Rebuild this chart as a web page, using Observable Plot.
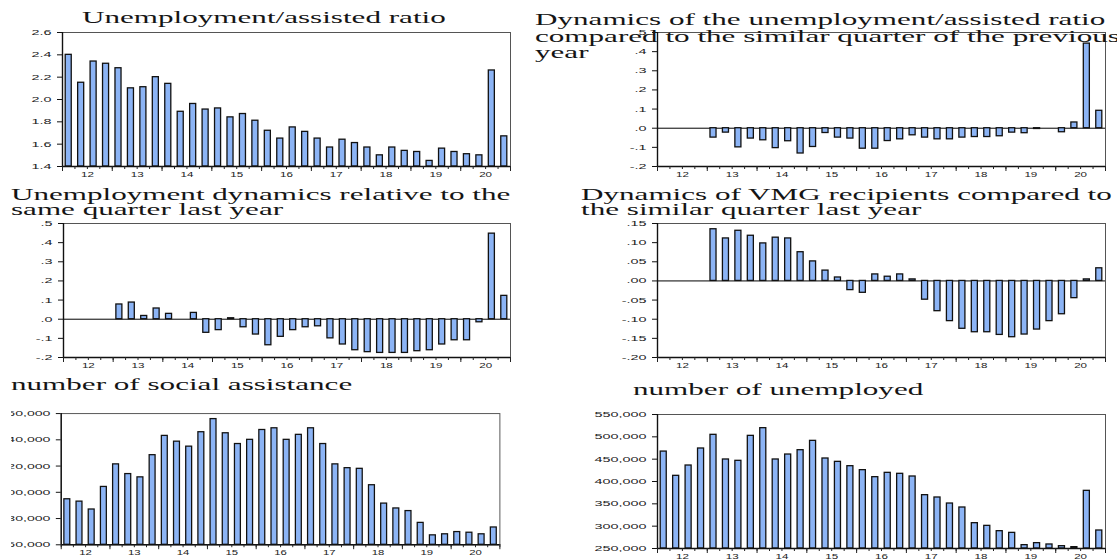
<!DOCTYPE html>
<html><head><meta charset="utf-8">
<script src="https://cdn.jsdelivr.net/npm/d3@7"></script>
<script src="https://cdn.jsdelivr.net/npm/@observablehq/plot@0.6"></script>
<style>
html,body{margin:0;padding:0;background:#fff;overflow:hidden;width:1117px;height:559px}
#root{position:relative;width:1117px;height:559px;overflow:hidden;background:#fff}
.cell{position:absolute;overflow:hidden}
.cell svg{display:block}
.title{position:absolute;font-family:"Liberation Serif","Times New Roman",serif;font-size:17px;color:#151515;white-space:nowrap;transform:scaleX(1.83);transform-origin:0 0;z-index:2}
</style></head><body><div id="root"></div>
<script>
// ---------- data ----------
const quarters = ["2012Q1","2012Q2","2012Q3","2012Q4","2013Q1","2013Q2","2013Q3","2013Q4",
  "2014Q1","2014Q2","2014Q3","2014Q4","2015Q1","2015Q2","2015Q3","2015Q4",
  "2016Q1","2016Q2","2016Q3","2016Q4","2017Q1","2017Q2","2017Q3","2017Q4",
  "2018Q1","2018Q2","2018Q3","2018Q4","2019Q1","2019Q2","2019Q3","2019Q4",
  "2020Q1","2020Q2","2020Q3","2020Q4"];
const yearLabels = ["12","13","14","15","16","17","18","19","20"];

const ratio = [2.40,2.15,2.34,2.32,2.28,2.10,2.11,2.20,2.14,1.89,1.96,1.91,1.92,1.84,1.87,1.81,
  1.72,1.65,1.75,1.71,1.65,1.57,1.64,1.61,1.57,1.50,1.57,1.54,1.53,1.45,1.56,1.53,1.51,1.50,2.26,1.67];
const ratioDyn = [null,null,null,null,-0.049,-0.023,-0.100,-0.054,-0.063,-0.104,-0.068,-0.132,-0.098,-0.025,
  -0.049,-0.054,-0.107,-0.107,-0.067,-0.058,-0.037,-0.049,-0.058,-0.058,-0.049,-0.046,-0.046,-0.042,
  -0.023,-0.026,-0.004,0,-0.021,0.030,0.442,0.091];
const unempDyn = [null,null,null,null,0.077,0.087,0.017,0.056,0.028,0,0.033,-0.071,-0.057,0.005,-0.042,-0.080,
  -0.136,-0.092,-0.057,-0.042,-0.037,-0.100,-0.132,-0.162,-0.172,-0.176,-0.176,-0.176,-0.167,-0.162,
  -0.132,-0.110,-0.110,-0.016,0.447,0.122];
const vmgDyn = [null,null,null,null,0.135,0.111,0.131,0.118,0.098,0.113,0.111,0.075,0.051,0.027,0.009,-0.024,
  -0.031,0.017,0.011,0.017,0.004,-0.049,-0.079,-0.105,-0.125,-0.134,-0.134,-0.141,-0.147,-0.140,
  -0.127,-0.105,-0.087,-0.045,0.004,0.033];
const assisted = [194700,192900,186900,204100,221300,213900,211400,228300,243000,238600,234800,245800,
  255800,245000,236800,240000,247500,248800,240000,243800,248800,236800,221300,218400,217900,205400,
  191400,187700,185700,176700,167200,168000,169700,169200,168000,173200];
const unemployed = [467000,412700,435800,473900,504500,449300,446300,502200,519400,449300,460400,470100,
  491000,451500,444000,434300,425400,409700,419400,417200,411200,369400,364200,350700,341800,306700,
  300700,288800,285000,257500,262000,259000,255200,253000,379100,290300];

const ratioTicks = [1.4,1.6,1.8,2.0,2.2,2.4,2.6];
const dynTicks = [-0.2,-0.1,0,0.1,0.2,0.3,0.4,0.5];
const vmgTicks = [-0.20,-0.15,-0.10,-0.05,0,0.05,0.10,0.15];
const assistTicks = [160000,180000,200000,220000,240000,260000];
const unempTicks = [250000,300000,350000,400000,450000,500000,550000];

// ---------- helpers ----------
const tOf = q => +q.slice(0,4) + (+q.slice(5) - 1) / 4;
const qBounds = d3.range(0, quarters.length + 1).map(i => 2012 + i / 4);
const yBounds = yearLabels.map(l => 2000 + +l).concat([2021]);
const yMids = yearLabels.map(l => 2000 + +l + 0.5);
const dec = n => d => d.toFixed(n).replace(/^(-?)0\./, "$1.");
const thousands = d => d3.format(",")(d).replace("\u2212", "-");

const root = document.getElementById("root");

function stretchLabels(chart) {
  chart.querySelectorAll('g[aria-label$="tick label"]').forEach(g => {
    const sx = /y-axis/.test(g.getAttribute("aria-label")) ? 1.8 : 1.45;
    g.querySelectorAll("text").forEach(t => {
      const tr = t.getAttribute("transform");
      if (tr) {
        t.setAttribute("transform", tr + ` scale(${sx},1)`);
      } else {
        const x = parseFloat(t.getAttribute("x") || "0");
        t.removeAttribute("x");
        t.setAttribute("transform", `translate(${x},0) scale(${sx},1)`);
      }
    });
  });
}

function drawPanel(p) {
  const rows = quarters.map((q, i) => ({t: tOf(q), v: p.values[i]}))
    .filter(d => d.v != null && d.v !== 0);
  const y0 = p.domain[0];
  const chart = Plot.plot({
    width: p.w, height: p.h,
    marginLeft: p.ml, marginRight: p.mr, marginTop: p.mt, marginBottom: p.mb,
    x: {domain: [2012, 2021], label: null},
    y: {domain: p.domain, label: null},
    style: {fontFamily: "'Liberation Sans', Arial, sans-serif", fontSize: "8px", color: "#222", background: "transparent", overflow: "visible"},
    marks: [
      p.zero ? Plot.ruleY([0], {stroke: "#000", strokeWidth: 1}) : null,
      Plot.rectY(rows, {x1: "t", x2: d => d.t + 0.25, y1: () => p.base, y2: "v",
        fill: "#8cb4f5", stroke: "#111", strokeWidth: 1.3, insetLeft: 3.2, insetRight: 3.2}),
      Plot.frame({stroke: "#555", strokeWidth: 1}),
      Plot.ruleX([2012], {stroke: "#111", strokeWidth: 1.4}),
      Plot.ruleY([y0], {stroke: "#111", strokeWidth: 1.4}),
      Plot.axisY({ticks: p.ticks, tickSize: 5, tickPadding: 6, tickFormat: p.fmt, stroke: "#111", label: null}),
      Plot.axisX({ticks: qBounds, tickSize: 3, tickFormat: () => "", stroke: "#222", label: null}),
      Plot.axisX({ticks: yBounds, tickSize: 5, tickFormat: () => "", stroke: "#222", label: null}),
      Plot.axisX({ticks: yMids, tickSize: 0, tickPadding: 5, label: null,
        tickFormat: d => yearLabels[Math.floor(d) - 2012]})
    ]
  });
  stretchLabels(chart);
  const clip = p.clip || 0;
  const cell = document.createElement("div");
  cell.className = "cell";
  cell.style.left = (p.left + clip) + "px";
  cell.style.top = p.top + "px";
  cell.style.width = (p.w - clip) + "px";
  cell.style.height = p.h + "px";
  chart.style.marginLeft = (-clip) + "px";
  cell.appendChild(chart);
  root.appendChild(cell);

  const tdiv = document.createElement("div");
  tdiv.className = "title";
  tdiv.style.left = p.tx + "px";
  tdiv.style.top = p.ty + "px";
  tdiv.style.lineHeight = p.lh + "px";
  tdiv.innerHTML = p.title.join("<br>");
  root.appendChild(tdiv);
}

const L = {left: 0, w: 530, mr: 20};
const R = {left: 560, w: 557, ml: 97, mr: 12};

drawPanel({...L, ml: 62, top: 0, h: 180, mt: 32, mb: 14,
  values: ratio, domain: [1.4, 2.6], base: 1.4, ticks: ratioTicks, fmt: d => d.toFixed(1),
  title: ["Unemployment/assisted ratio"], tx: 82, ty: 9, lh: 17});
drawPanel({...R, top: 0, h: 180, mt: 32, mb: 14,
  values: ratioDyn, domain: [-0.2, 0.5], base: 0, zero: true, ticks: dynTicks, fmt: dec(1),
  title: ["Dynamics of the unemployment/assisted ratio", "compared to the similar quarter of the previous", "year"],
  tx: 535, ty: 12, lh: 16.6});
drawPanel({...L, ml: 63, top: 180, h: 190, mt: 43, mb: 13,
  values: unempDyn, domain: [-0.2, 0.5], base: 0, zero: true, ticks: dynTicks, fmt: dec(1),
  title: ["Unemployment dynamics relative to the", "same quarter last year"], tx: 11, ty: 187, lh: 15.4});
drawPanel({...R, top: 180, h: 190, mt: 43, mb: 13,
  values: vmgDyn, domain: [-0.2, 0.15], base: 0, zero: true, ticks: vmgTicks, fmt: dec(2),
  title: ["Dynamics of VMG recipients compared to", "the similar quarter last year"], tx: 581, ty: 187, lh: 15.4});
drawPanel({...L, ml: 62, top: 370, h: 189, mt: 44, mb: 11, clip: 11,
  values: assisted, domain: [160000, 260000], base: 160000, ticks: assistTicks, fmt: thousands,
  title: ["number of social assistance"], tx: 11, ty: 376, lh: 17});
drawPanel({...R, top: 370, h: 189, mt: 44, mb: 11,
  values: unemployed, domain: [250000, 550000], base: 250000, ticks: unempTicks, fmt: thousands,
  title: ["number of unemployed"], tx: 633, ty: 381, lh: 17});
</script></body></html>
